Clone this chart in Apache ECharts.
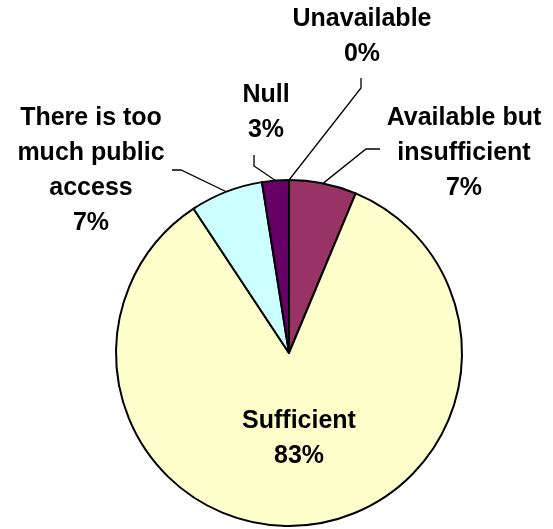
<!DOCTYPE html>
<html>
<head>
<meta charset="utf-8">
<script src="https://cdn.jsdelivr.net/npm/echarts@6/dist/echarts.min.js"></script>
<style>
html,body{margin:0;padding:0;background:#fff;}
#chart{width:553px;height:529px;}
</style>
</head>
<body>
<div id="chart"></div>
<script>
// Data (slice shares)
const categories = ['Unavailable', 'Available but insufficient', 'Sufficient', 'There is too much public access', 'Null'];
const values = [0, 6.3, 84.4, 6.8, 2.5];
const percentLabels = ['0%', '7%', '83%', '7%', '3%'];
const wrappedNames = ['Unavailable', 'Available but\ninsufficient', 'Sufficient', 'There is too\nmuch public\naccess', 'Null'];
const colors = ['#FFFFFF', '#993366', '#FFFFCC', '#CCFFFF', '#660066'];

// label placement (layout only)
const labelPos = [
  {x: 362, y: 37, bend: [361, 88], tail: [361, 78]},
  {x: 464, y: 153, bend: [366, 149], tail: [380, 149]},
  {x: 299, y: 439},
  {x: 91, y: 171, bend: [181, 170], tail: [172, 170]},
  {x: 266, y: 113, bend: [254, 166], tail: [254, 155]}
];

const chart = echarts.init(document.getElementById('chart'));
chart.setOption({
  animation: false,
  series: [{
    type: 'pie',
    center: [289, 353],
    radius: 173,
    startAngle: 90,
    clockwise: true,
    avoidLabelOverlap: false,
    stillShowZeroSum: true,
    minShowLabelAngle: 0,
    itemStyle: {borderColor: '#000', borderWidth: 2},
    label: {
      show: true,
      position: 'outside',
      fontFamily: 'Liberation Sans, Arial, sans-serif',
      fontWeight: 'bold',
      fontSize: 25,
      lineHeight: 35,
      color: '#000',
      align: 'center',
      formatter: p => wrappedNames[p.dataIndex] + '\n' + percentLabels[p.dataIndex]
    },
    labelLine: {show: true, lineStyle: {color: '#000', width: 1.3}, length: 20, length2: 10},
    labelLayout: function (params) {
      const i = params.dataIndex;
      const lp = labelPos[i];
      const res = {x: lp.x, y: lp.y, align: 'center', verticalAlign: 'middle'};
      if (lp.bend && params.labelLinePoints) {
        const start = params.labelLinePoints[0];
        res.labelLinePoints = [start, lp.bend, lp.tail];
      }
      return res;
    },
    data: categories.map((c, i) => ({
      name: c,
      value: values[i],
      itemStyle: {color: colors[i]},
      labelLine: {show: i !== 2},
      label: i === 2 ? {position: 'inside'} : {}
    }))
  }]
});
</script>
</body>
</html>
